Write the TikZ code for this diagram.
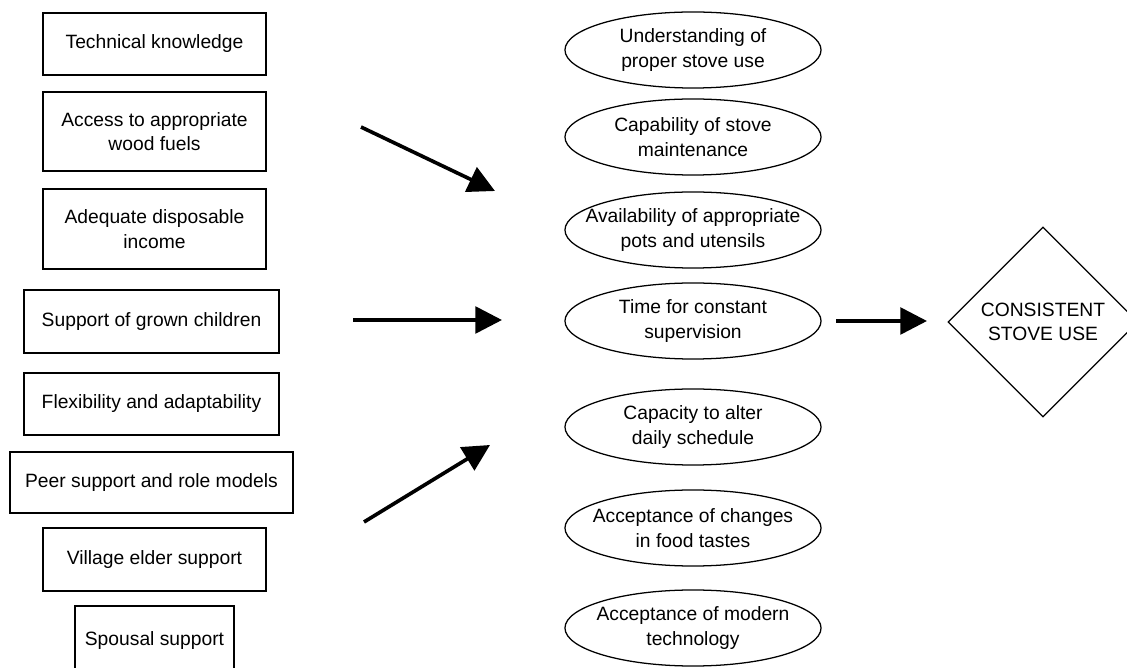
\documentclass[tikz,border=0pt]{standalone}
\usepackage{fontspec}
\setmainfont{Liberation Sans}
\usetikzlibrary{shapes.geometric,arrows.meta}

\begin{document}
\begin{tikzpicture}[x=0.025cm,y=-0.025cm,
    every node/.style={font=\fontsize{13.7}{17.5}\selectfont},
    factor/.style={draw,line width=0.9pt,align=center,inner sep=0pt},
    cond/.style={align=center,inner sep=0pt},
    goal/.style={diamond,draw,line width=0.9pt,align=center,inner sep=0pt,minimum size=4.75cm},
    push/.style={line width=2.6pt,-{Triangle[length=19pt,width=19pt]}}]
  \useasboundingbox (0,0) rectangle (1127,668);

  % left column
  \node[factor,minimum width=5.575cm,minimum height=1.55cm] (tech) at (154.5,44) {Technical knowledge};
  \node[factor,minimum width=5.575cm,minimum height=1.975cm] (fuel) at (154.5,131.5) {Access to appropriate\\wood fuels};
  \node[factor,minimum width=5.575cm,minimum height=2cm] (income) at (154.5,229) {Adequate disposable\\income};
  \node[factor,minimum width=6.375cm,minimum height=1.575cm] (kids) at (151.5,321.5) {Support of grown children};
  \node[factor,minimum width=6.375cm,minimum height=1.55cm] (flex) at (151.5,404) {Flexibility and adaptability};
  \node[factor,minimum width=7.075cm,minimum height=1.525cm] (peer) at (151.5,482.5) {Peer support and role models};
  \node[factor,minimum width=5.575cm,minimum height=1.575cm] (elder) at (154.5,559.5) {Village elder support};
  \node[factor,minimum width=3.975cm,minimum height=1.75cm] (spouse) at (154.5,641) {Spousal support};

  % middle column
  \node[cond] (use) at (693,50) {Understanding of\\proper stove use};
  \node[cond] (maint) at (693,137) {Capability of stove\\maintenance};
  \node[cond] (pots) at (693,230) {Availability of appropriate\\pots and utensils};
  \node[cond] (time) at (693,321) {Time for constant\\supervision};
  \node[cond] (sched) at (693,427) {Capacity to alter\\daily schedule};
  \node[cond] (taste) at (693,528) {Acceptance of changes\\in food tastes};
  \node[cond] (tech2) at (693,628) {Acceptance of modern\\technology};
  \foreach \n in {use,maint,pots,time,sched,taste,tech2}
    \draw[line width=0.9pt] (\n.center) ellipse [x radius=3.2cm, y radius=0.95cm];

  % outcome
  \node[goal] (stove) at (1043,322) {CONSISTENT\\STOVE USE};

  % arrows
  \coordinate (a1) at (361,127);
  \coordinate (b1) at (495,191);
  \coordinate (a2) at (353,320);
  \coordinate (b2) at (502,320);
  \coordinate (a3) at (364,522);
  \coordinate (b3) at (490,445);
  \coordinate (a4) at (836,321);
  \coordinate (b4) at (927,321);
  \draw[push] (a1) -- (b1);
  \draw[push] (a2) -- (b2);
  \draw[push] (a3) -- (b3);
  \draw[push] (a4) -- (b4);
\end{tikzpicture}
\end{document}
